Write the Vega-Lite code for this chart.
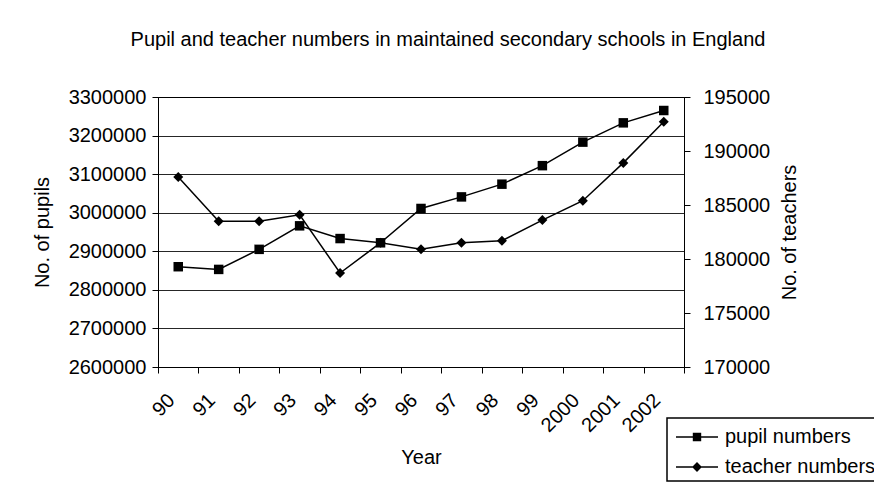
{
  "$schema": "https://vega.github.io/schema/vega-lite/v6.json",
  "width": 526,
  "height": 270,
  "autosize": {"type": "none"},
  "padding": {"left": 158, "top": 97, "right": 190, "bottom": 121},
  "background": "white",
  "config": {
    "font": "Liberation Sans",
    "view": {"stroke": "black", "strokeWidth": 1},
    "axis": {
      "labelFont": "Liberation Sans",
      "titleFont": "Liberation Sans",
      "labelFontSize": 20,
      "titleFontSize": 20,
      "titleFontWeight": "normal",
      "labelColor": "black",
      "titleColor": "black",
      "domainColor": "black",
      "tickColor": "black",
      "gridColor": "black",
      "gridOpacity": 0.85
    }
  },
  "title": {
    "text": "Pupil and teacher numbers in maintained secondary schools in England",
    "font": "Liberation Sans",
    "fontSize": 20,
    "fontWeight": "normal",
    "color": "black",
    "anchor": "middle",
    "dx": 27,
    "offset": 37
  },
  "data": {
    "values": [
      {"year": "90", "series": "pupil numbers", "value": 2860000},
      {"year": "91", "series": "pupil numbers", "value": 2853000},
      {"year": "92", "series": "pupil numbers", "value": 2905000},
      {"year": "93", "series": "pupil numbers", "value": 2966000},
      {"year": "94", "series": "pupil numbers", "value": 2933000},
      {"year": "95", "series": "pupil numbers", "value": 2922000},
      {"year": "96", "series": "pupil numbers", "value": 3011000},
      {"year": "97", "series": "pupil numbers", "value": 3041000},
      {"year": "98", "series": "pupil numbers", "value": 3074000},
      {"year": "99", "series": "pupil numbers", "value": 3122000},
      {"year": "2000", "series": "pupil numbers", "value": 3183000},
      {"year": "2001", "series": "pupil numbers", "value": 3233000},
      {"year": "2002", "series": "pupil numbers", "value": 3265000},
      {"year": "90", "series": "teacher numbers", "value": 187600},
      {"year": "91", "series": "teacher numbers", "value": 183500},
      {"year": "92", "series": "teacher numbers", "value": 183500},
      {"year": "93", "series": "teacher numbers", "value": 184100},
      {"year": "94", "series": "teacher numbers", "value": 178700},
      {"year": "95", "series": "teacher numbers", "value": 181500},
      {"year": "96", "series": "teacher numbers", "value": 180900},
      {"year": "97", "series": "teacher numbers", "value": 181500},
      {"year": "98", "series": "teacher numbers", "value": 181700},
      {"year": "99", "series": "teacher numbers", "value": 183600},
      {"year": "2000", "series": "teacher numbers", "value": 185400},
      {"year": "2001", "series": "teacher numbers", "value": 188900},
      {"year": "2002", "series": "teacher numbers", "value": 192700}
    ]
  },
  "encoding": {
    "x": {
      "field": "year",
      "type": "ordinal",
      "sort": null,
      "scale": {"paddingInner": 0, "paddingOuter": 0},
      "axis": {
        "title": "Year",
        "labelAngle": -45,
        "labelAlign": "right",
        "labelBaseline": "middle",
        "tickBand": "extent",
        "tickSize": 6,
        "labelPadding": 24,
        "labelOffset": -7,
        "titlePadding": 12,
        "grid": false
      }
    },
    "color": {
      "field": "series",
      "type": "nominal",
      "scale": {"domain": ["pupil numbers", "teacher numbers"], "range": ["black", "black"]},
      "legend": {
        "title": null,
        "orient": "none",
        "legendX": 509,
        "legendY": 321,
        "padding": 4,
        "fillColor": "white",
        "strokeColor": "black",
        "labelFont": "Liberation Sans",
        "labelFontSize": 20,
        "labelColor": "black",
        "symbolSize": 900,
        "symbolOffset": 11,
        "labelOffset": 13,
        "rowPadding": 5,
        "encode": {
          "legend": {"update": {"strokeWidth": {"value": 1.5}}},
          "symbols": {
            "update": {
              "shape": {"signal": "datum.value === 'pupil numbers' ? 'M-1.4,-0.05H1.4V0.05H-1.4Z M-0.28,-0.28H0.28V0.28H-0.28Z' : 'M-1.4,-0.05H1.4V0.05H-1.4Z M0,-0.33L0.33,0L0,0.33L-0.33,0Z'"},
              "fill": {"value": "black"},
              "stroke": {"value": "black"},
              "strokeWidth": {"value": 0},
              "opacity": {"value": 1}
            }
          }
        }
      }
    }
  },
  "layer": [
    {
      "transform": [{"filter": "datum.series === 'pupil numbers'"}],
      "encoding": {
        "y": {
          "field": "value",
          "type": "quantitative",
          "scale": {"domain": [2600000, 3300000], "zero": false, "nice": false},
          "axis": {
            "title": "No. of pupils",
            "orient": "left",
            "values": [2600000, 2700000, 2800000, 2900000, 3000000, 3100000, 3200000, 3300000],
            "format": "d",
            "grid": true,
            "tickSize": 6,
            "labelPadding": 6,
            "titlePadding": 16
          }
        }
      },
      "layer": [
        {"mark": {"type": "line", "strokeWidth": 1.5}},
        {
          "mark": {"type": "point", "filled": true, "opacity": 1, "size": 90, "shape": "square"}
        }
      ]
    },
    {
      "transform": [{"filter": "datum.series === 'teacher numbers'"}],
      "encoding": {
        "y": {
          "field": "value",
          "type": "quantitative",
          "scale": {"domain": [170000, 195000], "zero": false, "nice": false},
          "axis": {
            "title": "No. of teachers",
            "orient": "right",
            "values": [170000, 175000, 180000, 185000, 190000, 195000],
            "format": "d",
            "grid": false,
            "tickSize": 6,
            "labelPadding": 13,
            "titleAngle": -90,
            "titleBaseline": "top",
            "titlePadding": 10
          }
        }
      },
      "layer": [
        {"mark": {"type": "line", "strokeWidth": 1.5}},
        {
          "mark": {"type": "point", "filled": true, "opacity": 1, "size": 100, "shape": "diamond"}
        }
      ]
    }
  ],
  "resolve": {"scale": {"y": "independent"}}
}
